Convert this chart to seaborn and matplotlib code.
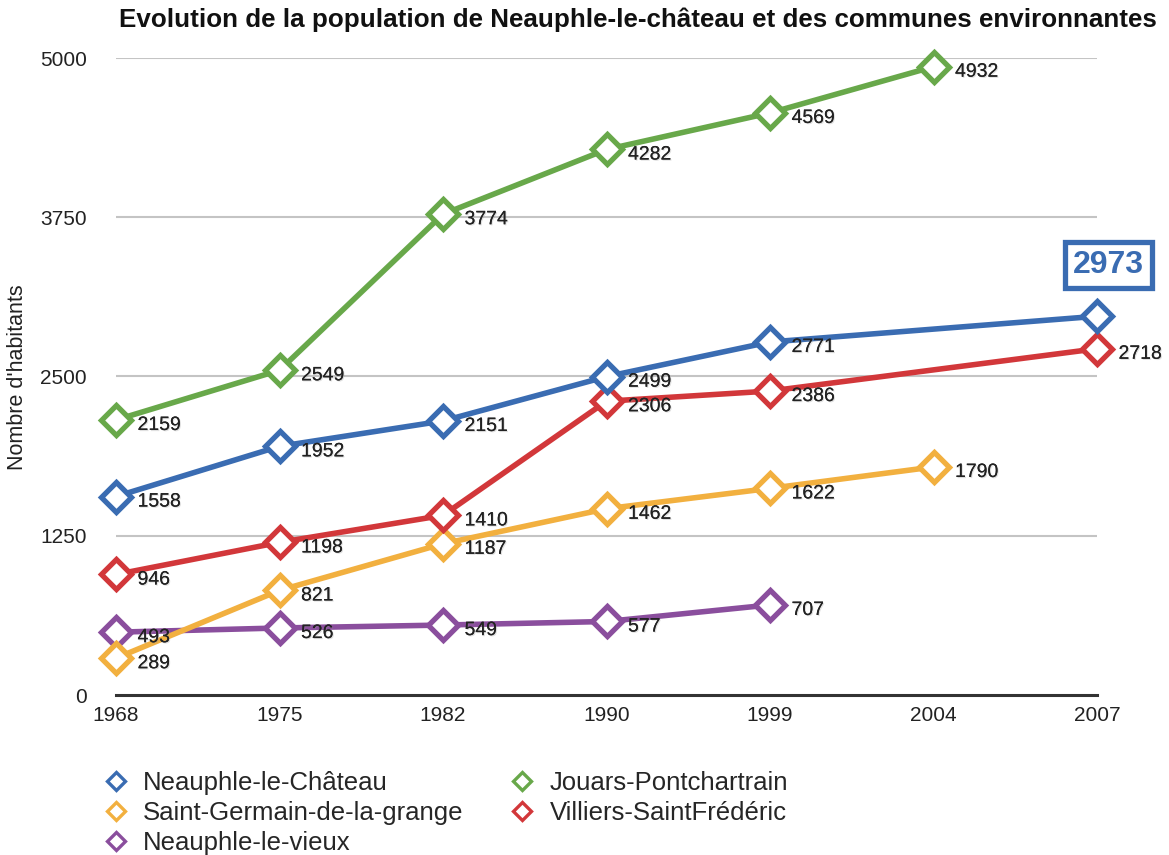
import matplotlib
matplotlib.use("Agg")
import matplotlib.pyplot as plt
import matplotlib.patheffects as pe
from matplotlib.lines import Line2D
import pandas as pd
import seaborn as sns

# Census years shown on the horizontal axis (evenly spaced categories)
years = ["1968", "1975", "1982", "1990", "1999", "2004", "2007"]

# Population per commune; None where no census figure is shown
neauphle_chateau = [1558, 1952, 2151, 2499, 2771, None, 2973]
jouars = [2159, 2549, 3774, 4282, 4569, 4932, None]
villiers = [946, 1198, 1410, 2306, 2386, None, 2718]
saint_germain = [289, 821, 1187, 1462, 1622, 1790, None]
neauphle_vieux = [493, 526, 549, 577, 707, None, None]

communes = ["Neauphle-le-Château", "Jouars-Pontchartrain", "Villiers-SaintFrédéric",
            "Saint-Germain-de-la-grange", "Neauphle-le-vieux"]
series = [neauphle_chateau, jouars, villiers, saint_germain, neauphle_vieux]
colors = ["#3a6cb2", "#68a84a", "#d2373a", "#f2b03f", "#8a4e9d"]

y_ticks = [0, 1250, 2500, 3750, 5000]

rows = []
for name, vals in zip(communes, series):
    for i, v in enumerate(vals):
        if v is not None:
            rows.append({"commune": name, "pos": i, "annee": years[i], "habitants": v})
df = pd.DataFrame(rows)
palette = dict(zip(communes, colors))

sns.set_theme(style="white")
plt.rcParams["font.family"] = ["Liberation Sans", "DejaVu Sans"]

fig = plt.figure(figsize=(11.69, 8.55), dpi=100)
ax = fig.add_axes([116 / 1169, 1 - 695 / 855, (1097 - 116) / 1169, (695 - 58) / 855])

# Draw order: purple first, blue last so it sits on top
for name in ["Neauphle-le-vieux", "Saint-Germain-de-la-grange", "Villiers-SaintFrédéric",
             "Jouars-Pontchartrain", "Neauphle-le-Château"]:
    sub = df[df["commune"] == name]
    sns.lineplot(data=sub, x="pos", y="habitants", ax=ax, color=palette[name],
                 linewidth=4.0, marker="D", markersize=15.5, markerfacecolor="white",
                 markeredgecolor=palette[name], markeredgewidth=3.8,
                 clip_on=False, legend=False, estimator=None, sort=False)

shadow = [pe.withSimplePatchShadow(offset=(0.8, -0.8), shadow_rgbFace="#999999", alpha=0.3),
          pe.Normal()]

# Value labels next to each point; the latest Neauphle-le-Château figure gets a box
for _, r in df.iterrows():
    if r["commune"] == "Neauphle-le-Château" and r["annee"] == "2007":
        ax.annotate(f"{r['habitants']}", (r["pos"], r["habitants"]),
                    xytext=(8, 37), textcoords="offset points",
                    ha="center", va="center", fontsize=23, fontweight="bold",
                    color=palette[r["commune"]], annotation_clip=False,
                    bbox=dict(boxstyle="square,pad=0.25", fc="white",
                              ec=palette[r["commune"]], lw=3.8))
        continue
    ax.annotate(f"{r['habitants']}", (r["pos"], r["habitants"]),
                xytext=(15.5, -4), textcoords="offset points",
                ha="left", va="center", fontsize=14, color="#222222",
                annotation_clip=False, path_effects=shadow)

ax.set_xlim(0, len(years) - 1)
ax.set_ylim(0, 5000)
ax.set_xticks(range(len(years)))
ax.set_xticklabels(years)
ax.set_yticks(y_ticks)
ax.set_yticklabels([str(t) for t in y_ticks])
ax.tick_params(axis="both", length=0, labelsize=15, colors="#222222")
ax.tick_params(axis="y", pad=21)
ax.tick_params(axis="x", pad=8)

for t in y_ticks[1:]:
    ax.axhline(t, color="#c4c4c4", lw=1.5, zorder=0)
for s in ["top", "right", "left"]:
    ax.spines[s].set_visible(False)
ax.spines["bottom"].set_color("#333333")
ax.spines["bottom"].set_linewidth(2.2)
ax.grid(False)

ax.set_xlabel("")
ax.set_ylabel("Nombre d'habitants", fontsize=15.5, color="#222222")
ax.yaxis.set_label_coords(-88 / 981, (695 - 377) / 637)

fig.text(638 / 1169, 1 - 20 / 855,
         "Evolution de la population de Neauphle-le-château et des communes environnantes",
         ha="center", va="center", fontsize=18.7, fontweight="bold", color="#111111")

# Legend: markers only, two columns below the chart
order = ["Neauphle-le-Château", "Saint-Germain-de-la-grange", "Neauphle-le-vieux",
         "Jouars-Pontchartrain", "Villiers-SaintFrédéric"]
handles = [Line2D([], [], linestyle="none", marker="D", markersize=9,
                  markerfacecolor="white", markeredgecolor=palette[n], markeredgewidth=2.4)
           for n in order]
fig.legend(handles, order, loc="upper left", bbox_to_anchor=(103 / 1169, 1 - 771 / 855),
           ncol=2, frameon=False, fontsize=18.5, handletextpad=0.55, columnspacing=1.8,
           labelspacing=0.24, handlelength=1.0, borderaxespad=0, borderpad=0)

fig.savefig("out.png", dpi=100, facecolor="white")
